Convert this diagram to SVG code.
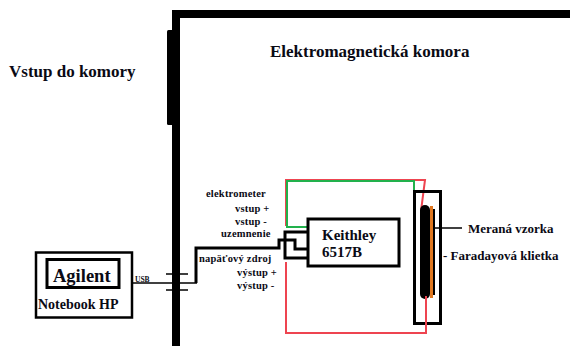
<svg xmlns="http://www.w3.org/2000/svg" width="570" height="346" viewBox="0 0 570 346">
<style>
text{font-family:"Liberation Serif",serif;font-weight:bold;fill:#0a0a14}
.box{fill:#fff;stroke:#000;stroke-width:3}
.w{fill:none;stroke:#000;stroke-width:3}
.t{fill:none;stroke:#000;stroke-width:1.5}
.red{fill:none;stroke:#ee4450;stroke-width:2}
.grn{fill:none;stroke:#22b14c;stroke-width:2}
.s{font-size:10.5px;letter-spacing:.2px}
</style>
<rect width="570" height="346" fill="#fff"/>
<g id="chamber">
<path d="M172 346V10H570V18H180V346Z" fill="#000"/>
<rect x="167" y="30" width="8" height="95" rx="1.5" fill="#000"/>
<text x="270" y="57" font-size="17">Elektromagnetická komora</text>
<text x="9" y="77" font-size="17">Vstup do komory</text>
</g>
<g id="connectors">
<path class="red" d="M286 226V180H425L421 211"/>
<path class="red" d="M286 262V333H426V296"/>
<path class="grn" d="M308 227H287V181H414V191"/>
<path class="t" d="M132 283H197"/>
<path class="t" d="M166 274H188M166 290H188"/>
<path class="w" d="M196 283V248H279V240H295V249H308"/>
<path class="w" d="M308 232H285V258H308"/>
<path class="t" d="M430 228H462"/>
</g>
<g id="keithley">
<rect class="box" x="308" y="219" width="91" height="47"/>
<text x="322" y="240" font-size="15">Keithley</text>
<text x="322" y="257" font-size="15">6517B</text>
</g>
<g id="faraday">
<rect x="414.500" y="191.500" width="26" height="132" fill="none" stroke="#000" stroke-width="3"/>
<rect x="420" y="205" width="10" height="94" rx="5" fill="#000"/>
<rect x="430" y="206" width="3" height="92" fill="#e07820"/>
<rect x="433" y="209" width="2" height="86" fill="#000"/>
<path class="red" d="M426 296V333"/>
<text x="468" y="233" font-size="13">Meraná vzorka</text>
<text x="443" y="260" font-size="13">- Faradayová klietka</text>
</g>
<g id="notebook">
<rect x="36" y="252.500" width="96" height="65" fill="#fff" stroke="#000" stroke-width="2.500"/>
<rect x="47" y="259.500" width="72" height="28" fill="#fff" stroke="#000" stroke-width="3"/>
<text x="53" y="282" font-size="18.500">Agilent</text>
<text x="38" y="309" font-size="14">Notebook HP</text>
<text x="135" y="282" font-size="7.500">USB</text>
</g>
<g id="labels">
<text class="s" x="206" y="197">elektrometer</text>
<text class="s" x="235" y="212">vstup +</text>
<text class="s" x="235" y="225">vstup -</text>
<text class="s" x="221" y="237">uzemnenie</text>
<text class="s" x="199" y="262">napäťový zdroj</text>
<text class="s" x="237" y="276">výstup +</text>
<text class="s" x="237" y="289">výstup -</text>
</g>
</svg>
